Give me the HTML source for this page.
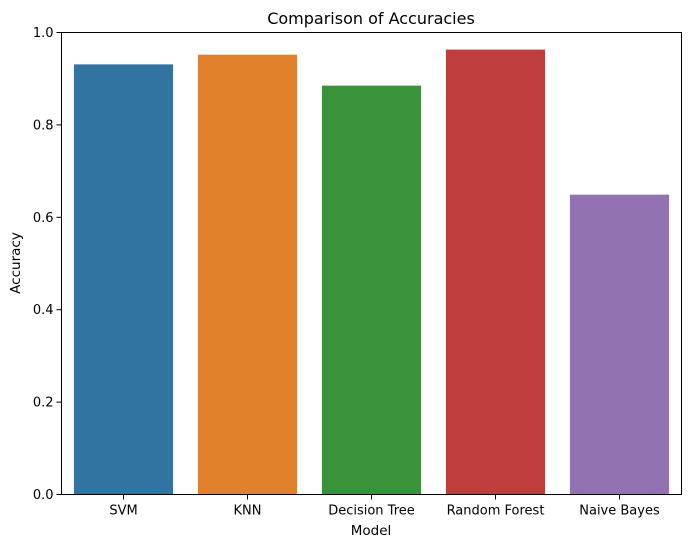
<!DOCTYPE html>
<html><head><meta charset="utf-8"><style>
body{margin:0;background:#fff;}
svg text{font-family:"DejaVu Sans","Liberation Sans",sans-serif;fill:#000;}
</style></head><body>
<svg id="chart" width="691" height="547" xmlns="http://www.w3.org/2000/svg">
<rect width="691" height="547" fill="#fff"/>
<g id="bars"></g>
<g id="yaxis"></g>
<g id="xaxis"></g>
<rect x="61.5" y="32.5" width="620" height="462" fill="none" stroke="#000" stroke-width="1"/>
<text x="371" y="24" font-size="16" text-anchor="middle">Comparison of Accuracies</text>
<text x="371" y="535" font-size="13.5" text-anchor="middle">Model</text>
<text transform="translate(20,263) rotate(-90)" font-size="13.5" text-anchor="middle">Accuracy</text>
</svg>
<script>
const categories = ["SVM","KNN","Decision Tree","Random Forest","Naive Bayes"];
const accuracies = [0.931, 0.952, 0.885, 0.963, 0.649];
const colors = ["#3274a1","#e1812c","#3a923a","#c03d3e","#9372b2"];
const yTicks = [0.0,0.2,0.4,0.6,0.8,1.0];
const yTickLabels = ["0.0","0.2","0.4","0.6","0.8","1.0"];

const NS="http://www.w3.org/2000/svg";
const axL=61.5,axR=681.5,axT=32.5,axB=494.5;
const yScale=v=>axB-(v/1.0)*(axB-axT);
const band=(axR-axL)/categories.length;
const xScale=i=>axL+band*i+band/2;
const bw=band*0.8;
const barsG=document.getElementById('bars');
const xa=document.getElementById('xaxis');
const ya=document.getElementById('yaxis');
categories.forEach((c,i)=>{
  const r=document.createElementNS(NS,'rect');
  r.setAttribute('x',xScale(i)-bw/2);
  r.setAttribute('y',yScale(accuracies[i]));
  r.setAttribute('width',bw);
  r.setAttribute('height',axB-yScale(accuracies[i]));
  r.setAttribute('fill',colors[i]);
  
  
  barsG.appendChild(r);
  const t=document.createElementNS(NS,'line');
  t.setAttribute('x1',xScale(i));t.setAttribute('x2',xScale(i));
  t.setAttribute('y1',axB);t.setAttribute('y2',axB+5);
  t.setAttribute('stroke','#000');
  
  
  xa.appendChild(t);
  const l=document.createElementNS(NS,'text');
  l.setAttribute('x',xScale(i));l.setAttribute('y',axB+20);
  l.setAttribute('font-size','13');l.setAttribute('text-anchor','middle');
  l.textContent=c;
  
  
  xa.appendChild(l);
});
yTicks.forEach((v,i)=>{
  const t=document.createElementNS(NS,'line');
  t.setAttribute('x1',axL-5);t.setAttribute('x2',axL);
  t.setAttribute('y1',yScale(v));t.setAttribute('y2',yScale(v));
  t.setAttribute('stroke','#000');
  
  
  ya.appendChild(t);
  const l=document.createElementNS(NS,'text');
  l.setAttribute('x',axL-8);l.setAttribute('y',yScale(v)+4.5);
  l.setAttribute('font-size','13');l.setAttribute('text-anchor','end');
  l.textContent=yTickLabels[i];
  
  
  ya.appendChild(l);
});
</script>
</body></html>
